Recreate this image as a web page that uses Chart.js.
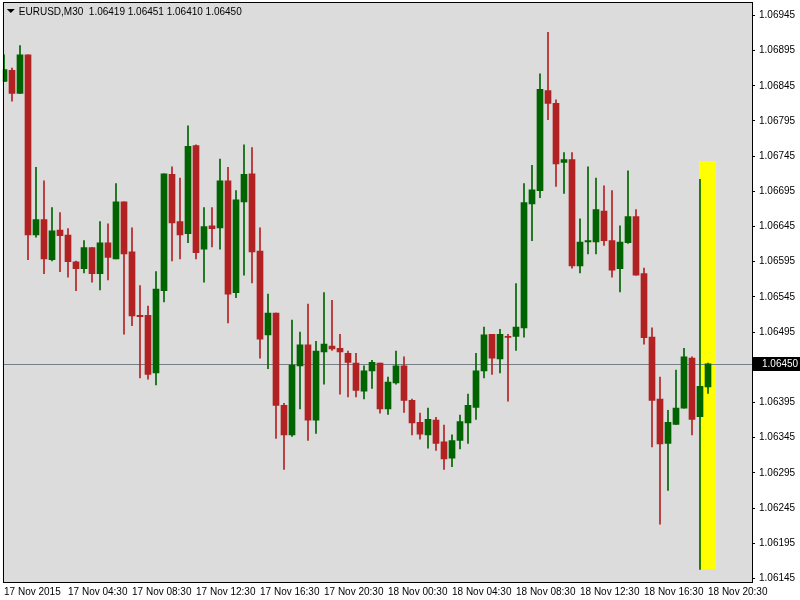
<!DOCTYPE html>
<html><head><meta charset="utf-8">
<script src="https://cdn.jsdelivr.net/npm/chart.js@4"></script>
<style>html,body{margin:0;padding:0;background:#fff;overflow:hidden}#w{position:relative;top:-8px;width:800px;height:608px}</style>
</head><body><div id="w"><canvas id="c"></canvas></div>
<script>
const symbolTitle = "EURUSD,M30  1.06419 1.06451 1.06410 1.06450";
const opens  = [1.06851,1.06867,1.06834,1.06889,1.06633,1.06655,1.06598,1.06640,1.06633,1.06595,1.06585,1.06615,1.06578,1.06622,1.06599,1.06680,1.06609,1.06519,1.06519,1.06437,1.06554,1.06719,1.06652,1.06635,1.06760,1.06613,1.06646,1.06643,1.06710,1.06551,1.06680,1.06720,1.06610,1.06491,1.06522,1.06391,1.06349,1.06447,1.06477,1.06370,1.06467,1.06475,1.06472,1.06465,1.06451,1.06411,1.06440,1.06451,1.06386,1.06423,1.06447,1.06398,1.06367,1.06349,1.06370,1.06339,1.06316,1.06341,1.06366,1.06388,1.06440,1.06492,1.06457,1.06489,1.06489,1.06501,1.06677,1.06696,1.06838,1.06820,1.06736,1.06740,1.06589,1.06623,1.06623,1.06667,1.06625,1.06585,1.06622,1.06659,1.06578,1.06488,1.06400,1.06337,1.06364,1.06387,1.06458,1.06375,1.06417];
const highs  = [1.06889,1.06870,1.06902,1.06889,1.06729,1.06710,1.06672,1.06665,1.06642,1.06596,1.06625,1.06615,1.06652,1.06649,1.06706,1.06680,1.06643,1.06561,1.06532,1.06581,1.06720,1.06730,1.06714,1.06788,1.06761,1.06672,1.06672,1.06741,1.06729,1.06696,1.06761,1.06757,1.06643,1.06549,1.06522,1.06394,1.06512,1.06495,1.06535,1.06482,1.06551,1.06540,1.06492,1.06468,1.06465,1.06447,1.06455,1.06451,1.06431,1.06468,1.06460,1.06400,1.06380,1.06387,1.06374,1.06363,1.06349,1.06377,1.06407,1.06465,1.06502,1.06492,1.06499,1.06492,1.06564,1.06706,1.06732,1.06862,1.06921,1.06825,1.06750,1.06750,1.06656,1.06730,1.06714,1.06703,1.06696,1.06646,1.06724,1.06669,1.06586,1.06501,1.06431,1.06384,1.06441,1.06472,1.06460,1.06712,1.06451];
const lows   = [1.06851,1.06823,1.06834,1.06598,1.06630,1.06578,1.06596,1.06581,1.06573,1.06554,1.06579,1.06566,1.06555,1.06569,1.06599,1.06492,1.06504,1.06430,1.06428,1.06420,1.06538,1.06596,1.06599,1.06622,1.06599,1.06566,1.06616,1.06613,1.06508,1.06544,1.06576,1.06565,1.06458,1.06443,1.06344,1.06300,1.06347,1.06386,1.06341,1.06351,1.06421,1.06469,1.06407,1.06403,1.06403,1.06400,1.06415,1.06380,1.06378,1.06421,1.06381,1.06349,1.06343,1.06330,1.06327,1.06300,1.06304,1.06329,1.06337,1.06371,1.06430,1.06435,1.06437,1.06397,1.06469,1.06488,1.06625,1.06686,1.06797,1.06702,1.06692,1.06586,1.06579,1.06606,1.06606,1.06618,1.06573,1.06552,1.06621,1.06576,1.06478,1.06332,1.06222,1.06270,1.06364,1.06387,1.06349,1.06158,1.06408];
const closes = [1.06868,1.06834,1.06889,1.06633,1.06655,1.06599,1.06639,1.06632,1.06595,1.06585,1.06615,1.06578,1.06622,1.06601,1.06680,1.06606,1.06518,1.06517,1.06435,1.06556,1.06720,1.06650,1.06633,1.06759,1.06608,1.06645,1.06642,1.06710,1.06549,1.06683,1.06719,1.06609,1.06485,1.06522,1.06391,1.06349,1.06448,1.06477,1.06370,1.06468,1.06478,1.06471,1.06467,1.06452,1.06412,1.06440,1.06452,1.06386,1.06424,1.06447,1.06398,1.06366,1.06350,1.06371,1.06337,1.06315,1.06341,1.06368,1.06391,1.06440,1.06491,1.06458,1.06492,1.06488,1.06502,1.06679,1.06697,1.06840,1.06820,1.06734,1.06740,1.06589,1.06623,1.06625,1.06669,1.06625,1.06583,1.06623,1.06659,1.06576,1.06487,1.06398,1.06336,1.06367,1.06387,1.06460,1.06371,1.06418,1.06450];
const timeLabels = ["17 Nov 2015","17 Nov 04:30","17 Nov 08:30","17 Nov 12:30","17 Nov 16:30","17 Nov 20:30","18 Nov 00:30","18 Nov 04:30","18 Nov 08:30","18 Nov 12:30","18 Nov 16:30","18 Nov 20:30"];
const yTicks = [1.06145,1.06195,1.06245,1.06295,1.06345,1.06395,1.06445,1.06495,1.06545,1.06595,1.06645,1.06695,1.06745,1.06795,1.06845,1.06895,1.06945];
const lastPrice = 1.06450;

const UP="#006400", DN="#b22222";
const cols = opens.map((o,i)=>closes[i]>=o?UP:DN);
const bodies = opens.map((o,i)=>{let a=o,b=closes[i];if(Math.abs(a-b)<0.000015){b=a+(b>=a?0.000015:-0.000015);}return {x:i,y:[a,b]};});
const wicks = lows.map((l,i)=>({x:i,y:[l,highs[i]]}));

const deco = {
  id:'deco',
  beforeDatasetsDraw(ch){
    const {ctx,scales:{x,y}}=ch;
    const n=opens.length; const sp=x.getPixelForValue(1)-x.getPixelForValue(0);
    const x0=x.getPixelForValue(n-2)-1, x1=x.getPixelForValue(n-1)+sp;
    ctx.save();ctx.fillStyle="#ffff00";
    const yt=y.getPixelForValue(1.06738), yb=y.getPixelForValue(1.06158);
    ctx.fillRect(x0,yt,x1-x0,yb-yt);
    const yl=Math.round(y.getPixelForValue(lastPrice))+0.5;
    ctx.strokeStyle="#778088";ctx.lineWidth=1;ctx.beginPath();ctx.moveTo(ch.chartArea.left,yl);ctx.lineTo(ch.chartArea.right,yl);ctx.stroke();
    ctx.restore();
  },
  afterDraw(ch){
    const {ctx,chartArea:a,scales:{y}}=ch;
    ctx.save();ctx.strokeStyle="#000";ctx.lineWidth=1;
    ctx.strokeRect(Math.round(a.left)+0.5,Math.round(a.top)+0.5,Math.round(a.right-a.left),Math.round(a.bottom-a.top));
    const yl=Math.round(y.getPixelForValue(lastPrice));
    ctx.fillStyle="#000";ctx.fillRect(a.right+1,yl-7,48,14);
    ctx.fillStyle="#fff";ctx.font="10px 'Liberation Sans'";ctx.textBaseline="middle";ctx.textAlign="left";
    ctx.fillText(lastPrice.toFixed(5),a.right+10,yl);
    ctx.fillStyle="#000";ctx.beginPath();ctx.moveTo(a.left+4,a.top+7);ctx.lineTo(a.left+12,a.top+7);ctx.lineTo(a.left+8,a.top+11);ctx.fill();
    ctx.fillText(symbolTitle,a.left+16,a.top+10);
    ctx.restore();
  }
};

new Chart(document.getElementById('c'),{
  type:'bar',
  data:{datasets:[
    {data:wicks,backgroundColor:cols,barThickness:1,grouped:false,order:2},
    {data:bodies,backgroundColor:cols,barThickness:6,grouped:false,order:1}
  ]},
  options:{
    responsive:true,maintainAspectRatio:false,animation:false,
    layout:{padding:{top:0,left:2,right:0,bottom:0}},
    plugins:{legend:{display:false},tooltip:{enabled:false}},
    scales:{
      x:{type:'linear',offset:false,min:-0.15,max:93.5,grid:{display:false,drawTicks:false},border:{display:false},
        afterFit(s){s.height=18;},
        afterBuildTicks(s){s.ticks=timeLabels.map((t,i)=>({value:i*8}));},
        ticks:{autoSkip:false,maxRotation:0,minRotation:0,align:'start',padding:4,color:'#000',font:{family:'Liberation Sans',size:10},
          callback(v){return timeLabels[Math.round(v/8)];}}},
      y:{position:'right',min:1.06140,max:1.06964,
        afterFit(s){s.width=48;},
        afterBuildTicks(s){s.ticks=yTicks.map(v=>({value:v}));},
        grid:{drawOnChartArea:false,tickLength:3,color:'#000'},border:{display:false},
        ticks:{padding:4,color:'#000',font:{family:'Liberation Sans',size:10},callback:v=>v.toFixed(5)}}
    }
  },
  plugins:[deco,{id:'bg',beforeDraw(ch){const c=ch.ctx;c.save();c.fillStyle="#dcdcdc";const a=ch.chartArea;c.fillRect(a.left,a.top,a.right-a.left,a.bottom-a.top);c.restore();}}]
});
</script></body></html>
